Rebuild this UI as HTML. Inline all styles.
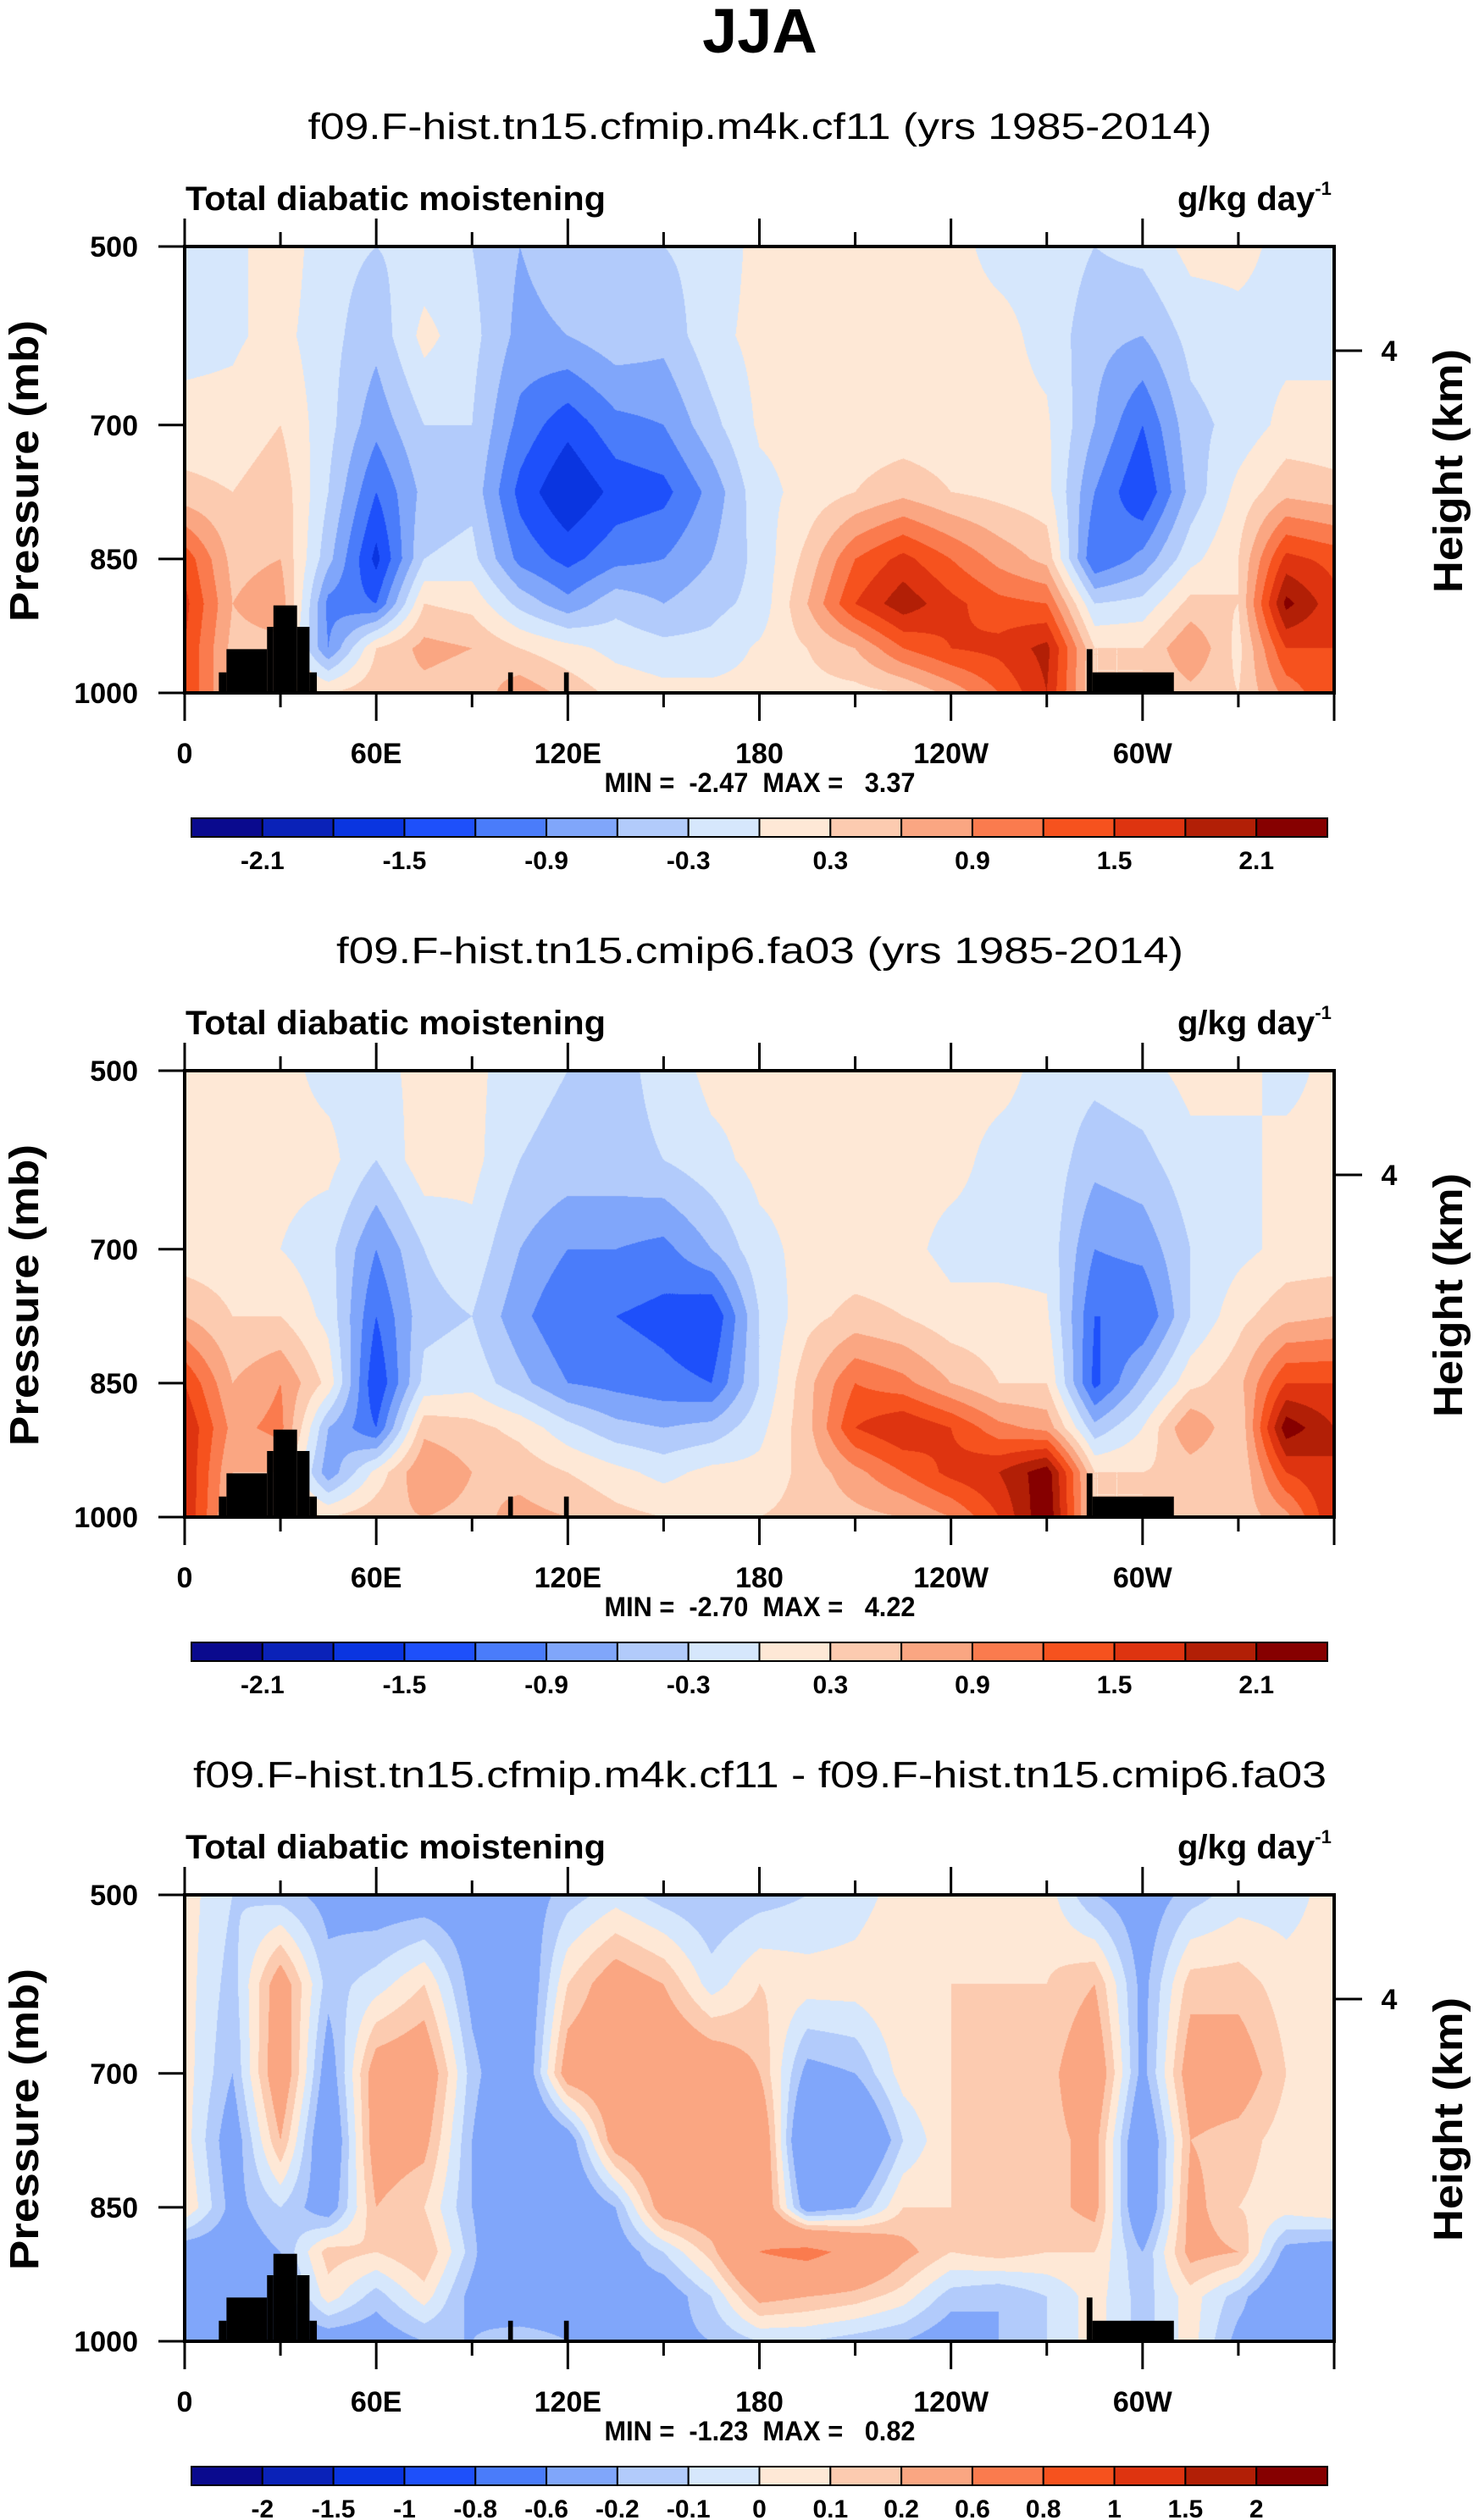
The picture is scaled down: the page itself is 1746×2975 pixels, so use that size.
<!DOCTYPE html>
<html><head><meta charset="utf-8">
<style>
html,body{margin:0;padding:0;background:#fff;}
#root{position:relative;width:1746px;height:2975px;overflow:hidden;font-family:"Liberation Sans",Arial,sans-serif;}
canvas{position:absolute;}
svg{position:absolute;left:0;top:0;}
</style></head>
<body>
<div id="root">
<svg id="svg" width="1746" height="2975"></svg>
</div>
<script>
// ---- data ----
const lons = [0,15,30,45,60,75,90,105,120,135,150,165,180,195,210,225,240,255,270,285,300,315,330,345,360];
const pres = [500,600,700,775,850,900,950,1000];
// columns by longitude, rows by pressure (top->bottom)
const cf11Values = [
[-0.1,-0.1,0.1,0.4,1.4,1.6,1.5,1.5],
[-0.1,-0.05,0.1,0.3,0.5,0.6,0.5,0.5],
[0.2,0.1,0.3,0.5,0.6,0.8,0.5,0.5],
[-0.2,-0.2,-0.2,-0.3,-0.5,-1.0,-0.9,0.3],
[-0.3,-0.5,-0.8,-1.2,-1.6,-1.2,0.3,0.5],
[-0.2,0.1,-0.3,-0.5,-0.3,0.3,0.7,0.5],
[-0.3,-0.2,-0.3,-0.4,-0.2,0.2,0.6,0.4],
[-0.6,-0.7,-1.0,-1.3,-1.0,-0.4,0.3,0.8],
[-0.4,-0.6,-1.4,-1.8,-1.3,-0.8,0.1,0.5],
[-0.5,-0.4,-1.0,-1.4,-1.0,-0.4,-0.1,0.2],
[-0.3,-0.5,-0.9,-1.3,-0.9,-0.6,-0.2,0.1],
[-0.2,-0.1,-0.4,-0.8,-0.6,-0.4,-0.2,0.1],
[0.1,0.1,0.05,-0.1,-0.2,-0.2,0.05,0.1],
[0.1,0.1,0.1,0.1,0.4,0.6,0.3,0.2],
[0.1,0.1,0.1,0.3,1.2,1.5,0.6,0.2],
[0.1,0.1,0.1,0.5,1.6,2.0,1.2,0.3],
[0.1,0.1,0.1,0.3,1.2,1.6,1.5,0.7],
[-0.1,0.1,0.1,0.2,0.8,1.3,1.6,1.2],
[-0.1,-0.1,0.05,0.1,0.5,1.2,1.9,1.8],
[-0.3,-0.5,-0.6,-0.9,-1.2,-0.3,0.3,0.3],
[-0.2,-0.6,-1.2,-1.5,-0.8,-0.2,0.3,0.3],
[0.1,-0.2,-0.4,-0.5,-0.1,0.4,0.9,0.5],
[0.1,-0.1,-0.2,0.1,0.3,0.3,0.2,0.3],
[-0.1,-0.1,0.1,0.5,1.6,2.2,1.5,1.0],
[-0.1,-0.1,0.1,0.4,1.4,1.6,1.5,1.5]
];
const fa03Values = [
[0.1,0.1,0.1,0.6,1.5,1.8,1.8,1.8],
[0.1,0.1,0.1,0.3,0.6,0.8,0.6,0.5],
[0.1,0.1,0.0,0.3,0.9,1.0,0.6,0.5],
[-0.1,0.1,-0.2,-0.1,0.2,-0.6,-0.8,0.3],
[-0.1,-0.3,-0.9,-1.2,-1.5,-1.2,0.1,0.5],
[0.1,0.2,-0.3,-0.4,-0.2,0.5,0.9,0.6],
[0.1,0.1,-0.1,-0.3,-0.1,0.4,0.6,0.5],
[-0.2,-0.3,-0.6,-0.8,-0.5,0.2,0.5,0.7],
[-0.3,-0.4,-0.9,-1.2,-0.9,-0.2,0.3,0.6],
[-0.4,-0.4,-0.9,-1.2,-1.0,-0.5,0.1,0.4],
[-0.2,-0.3,-1.0,-1.3,-1.1,-0.6,-0.1,0.3],
[0.1,-0.1,-0.6,-1.5,-1.2,-0.5,0.1,0.3],
[0.1,0.1,-0.1,-0.3,-0.3,-0.1,0.1,0.3],
[0.1,0.1,0.1,0.2,0.5,0.5,0.4,0.4],
[0.1,0.1,0.1,0.4,1.2,1.5,0.8,0.5],
[0.1,0.1,0.1,0.3,1.0,1.8,1.2,0.6],
[0.1,0.1,-0.1,0.1,0.6,1.5,1.6,0.9],
[0.1,-0.1,-0.1,0.1,0.3,1.0,1.8,1.5],
[-0.1,-0.1,-0.1,0.05,0.3,0.8,2.3,2.4],
[-0.2,-0.5,-0.9,-1.2,-1.3,-0.5,0.3,0.3],
[-0.1,-0.4,-0.8,-1.2,-0.5,0.0,0.3,0.3],
[0.1,-0.1,-0.3,-0.3,0.2,0.9,0.4,0.3],
[0.1,-0.1,-0.1,0.2,0.5,0.3,0.3,0.4],
[-0.1,0.1,0.1,0.5,1.5,2.3,1.5,0.8],
[0.1,0.1,0.1,0.6,1.5,1.8,1.8,1.8]
];
const diffValues = [
[0.05,0.05,0.05,0.05,0.1,-0.3,-0.4,-0.4],
[-0.1,-0.15,-0.2,-0.3,-0.25,-0.3,-0.4,-0.4],
[-0.15,0.3,0.35,0.2,-0.1,-0.2,-0.3,-0.3],
[-0.25,-0.15,-0.3,-0.4,-0.3,0.15,0.05,-0.3],
[-0.3,-0.05,0.3,0.3,0.2,0.1,-0.15,-0.3],
[-0.3,0.1,0.35,0.25,0.1,0.2,0.05,-0.2],
[-0.3,-0.25,-0.15,-0.2,-0.2,-0.15,-0.25,-0.2],
[-0.3,-0.4,-0.4,-0.5,-0.5,-0.6,-0.4,-0.1],
[-0.15,0.1,0.3,-0.3,-0.4,-0.4,-0.35,-0.2],
[-0.05,0.3,0.35,0.3,-0.2,-0.3,-0.25,-0.25],
[-0.15,0.2,0.4,0.4,0.3,-0.1,-0.3,-0.25],
[-0.2,-0.05,0.35,0.4,0.35,0.15,-0.1,-0.2],
[-0.15,0.1,0.2,0.4,0.4,0.6,0.25,-0.1],
[-0.1,0.05,-0.25,-0.5,-0.3,0.7,0.2,-0.1],
[-0.05,0.05,-0.2,-0.5,-0.2,0.5,0.15,-0.15],
[0.05,0.1,0.05,-0.1,0.1,0.25,0.05,-0.2],
[0.05,0.1,0.1,0.1,0.1,0.1,-0.15,-0.3],
[0.05,0.1,0.15,0.2,0.15,0.15,-0.2,-0.2],
[0.05,0.1,0.15,0.15,0.15,0.1,-0.1,-0.1],
[-0.2,0.2,0.35,0.25,0.25,0.1,0.05,0.05],
[-0.3,-0.25,-0.25,-0.4,-0.4,-0.2,-0.15,-0.15],
[-0.15,0.15,0.3,0.2,0.25,0.25,0.05,0.05],
[-0.05,0.15,0.3,0.15,0.1,0.2,-0.15,-0.25],
[-0.05,0.05,0.1,0.05,0.05,-0.25,-0.4,-0.3],
[0.05,0.05,0.05,0.05,0.1,-0.3,-0.4,-0.4]
];
const meanLevels = [-2.1,-1.8,-1.5,-1.2,-0.9,-0.6,-0.3,0,0.3,0.6,0.9,1.2,1.5,1.8,2.1];
const meanLabels = ["-2.1","","-1.5","","-0.9","","-0.3","","0.3","","0.9","","1.5","","2.1"];
const diffLevels = [-2,-1.5,-1,-0.8,-0.6,-0.2,-0.1,0,0.1,0.2,0.6,0.8,1,1.5,2];
const diffLabels = ["-2","-1.5","-1","-0.8","-0.6","-0.2","-0.1","0","0.1","0.2","0.6","0.8","1","1.5","2"];
const colors = ['#0a0a8e','#0a22b8','#0a35e0','#1e50fa','#4a7cfa','#80a6fa','#b2cbfb','#d6e7fc','#fee8d6','#fccbb0','#faa682','#fa7b4e','#f6521e','#de3410','#b21f06','#860000'];
const xTickLabels = ["0","60E","120E","180","120W","60W"];
const xTickLons = [0,60,120,180,240,300];
const yTickPres = [500,700,850,1000];
const topoBlocks = [[10.7,13.1,977],[13.1,25.8,951],[25.8,27.8,926],[27.8,35.2,902],[35.2,39.1,926],[39.1,41.4,977],[101.3,102.8,977],[118.8,120.3,977],[282.5,284.3,951],[284.3,309.8,977]];
const subtitles = ["f09.F-hist.tn15.cfmip.m4k.cf11 (yrs 1985-2014)","f09.F-hist.tn15.cmip6.fa03 (yrs 1985-2014)","f09.F-hist.tn15.cfmip.m4k.cf11 - f09.F-hist.tn15.cmip6.fa03"];
const minMax = [["-2.47","3.37"],["-2.70","4.22"],["-1.23","0.82"]];

// ---- layout ----
const PX0=218, PX1=1575, PY0=291, PY1=818;
const PW=PX1-PX0, PH=PY1-PY0;
const offsets=[0,973,1946];
const NS='http://www.w3.org/2000/svg';
const svg=document.getElementById('svg');
const root=document.getElementById('root');
function xOf(lon){return PX0+lon/360*PW;}
function yOf(p,dy){return dy+PY0+(p-500)/500*PH;}
function mk(tag,attrs,parent){const e=document.createElementNS(NS,tag);for(const k in attrs)e.setAttribute(k,attrs[k]);(parent||svg).appendChild(e);return e;}
function txt(s,attrs,parent){const e=mk('text',attrs,parent);e.textContent=s;return e;}

function valueAt(vals,lon,p){
  let i=Math.min(Math.floor(lon/15),lons.length-2);
  let tx=(lon-lons[i])/(lons[i+1]-lons[i]);
  let j=0;while(j<pres.length-2&&p>pres[j+1])j++;
  let ty=(p-pres[j])/(pres[j+1]-pres[j]);
  tx=Math.max(0,Math.min(1,tx));ty=Math.max(0,Math.min(1,ty));
  const a=vals[i][j],b=vals[i+1][j],c=vals[i][j+1],d=vals[i+1][j+1];
  return (a*(1-tx)+b*tx)*(1-ty)+(c*(1-tx)+d*tx)*ty;
}
function hexRgb(h){return [parseInt(h.slice(1,3),16),parseInt(h.slice(3,5),16),parseInt(h.slice(5,7),16)];}
const rgbs=colors.map(hexRgb);

function drawPanel(k,vals,levels,labels){
  const dy=offsets[k];
  const g=mk('g',{});
  
  
  const cv=document.createElement('canvas');
  cv.width=PW;cv.height=PH;cv.style.left=PX0+'px';cv.style.top=(PY0+dy)+'px';
  
  
  root.insertBefore(cv,svg);
  const ctx=cv.getContext('2d');
  const img=ctx.createImageData(PW,PH);
  for(let y=0;y<PH;y++){
    const p=500+(y+0.5)/PH*500;
    for(let x=0;x<PW;x++){
      const lon=(x+0.5)/PW*360;
      const v=valueAt(vals,lon,p);
      let ci=0;while(ci<levels.length&&v>=levels[ci])ci++;
      const c=rgbs[ci];const o=(y*PW+x)*4;
      img.data[o]=c[0];img.data[o+1]=c[1];img.data[o+2]=c[2];img.data[o+3]=255;
    }
  }
  ctx.putImageData(img,0,0);
  topoBlocks.forEach(b=>{
    const r=mk('rect',{x:xOf(b[0]),y:yOf(b[2],dy),width:xOf(b[1])-xOf(b[0]),height:yOf(1000,dy)-yOf(b[2],dy),fill:'#000'},g);
    
    
  });
  const fr=mk('rect',{x:PX0,y:PY0+dy,width:PW,height:PH,fill:'none',stroke:'#000','stroke-width':4},g);
  
  
  for(let lon=0;lon<=360;lon+=30){
    const major=lon%60===0;const L=major?33:17;const x=xOf(lon);
    if(lon<360){mk('line',{x1:x,x2:x,y1:PY0+dy,y2:PY0+dy-L,stroke:'#000','stroke-width':3},g);}
    mk('line',{x1:x,x2:x,y1:PY1+dy,y2:PY1+dy+L,stroke:'#000','stroke-width':3},g);
  }
  xTickLabels.forEach((s,i)=>{
    const t=txt(s,{x:xOf(xTickLons[i]),y:dy+901,'font-size':34,'font-weight':'bold','text-anchor':'middle'},g);
    
    
  });
  yTickPres.forEach(p=>{
    const y=yOf(p,dy);
    mk('line',{x1:PX0,x2:PX0-31,y1:y,y2:y,stroke:'#000','stroke-width':3},g);
    const t=txt(String(p),{x:163,y:y+12,'font-size':34,'font-weight':'bold','text-anchor':'end'},g);
    
    
  });
  mk('line',{x1:PX1,x2:PX1+33,y1:dy+414,y2:dy+414,stroke:'#000','stroke-width':3},g);
  const t4=txt('4',{x:1640,y:dy+426,'font-size':34,'font-weight':'bold','text-anchor':'middle'},g);
  
  
  const yt=txt('Pressure (mb)',{x:0,y:0,'font-size':48,'font-weight':'bold','text-anchor':'middle',textLength:356,lengthAdjust:'spacingAndGlyphs',transform:`translate(45,${dy+556}) rotate(-90)`},g);
  
  
  const rt=txt('Height (km)',{x:0,y:0,'font-size':48,'font-weight':'bold','text-anchor':'middle',textLength:288,lengthAdjust:'spacingAndGlyphs',transform:`translate(1726,${dy+556}) rotate(-90)`},g);
  
  
  const st=txt(subtitles[k],{x:897,y:dy+164,'font-size':44,'text-anchor':'middle',textLength:k===2?1338:(k===0?1067:1000),lengthAdjust:'spacingAndGlyphs'},g);
  
  
  const lt=txt('Total diabatic moistening',{x:219,y:dy+248,'font-size':40,'font-weight':'bold',textLength:496,lengthAdjust:'spacingAndGlyphs'},g);
  
  
  const ut=txt('',{x:1390,y:dy+248,'font-size':40,'font-weight':'bold'},g);
  
  
  const ts1=document.createElementNS(NS,'tspan');ts1.textContent='g/kg day';ut.appendChild(ts1);
  const ts2=document.createElementNS(NS,'tspan');ts2.textContent='-1';ts2.setAttribute('dy','-18');ts2.setAttribute('font-size','22');ut.appendChild(ts2);
  const mm=txt(`MIN =  ${minMax[k][0]}  MAX =   ${minMax[k][1]}`,{x:897,y:dy+935,'font-size':32,'font-weight':'bold','text-anchor':'middle',textLength:367,lengthAdjust:'spacingAndGlyphs'},g);
  mm.style.whiteSpace='pre';
  
  
  const CB0=226,CB1=1567,CBT=966+dy,CBH=22,bw=(CB1-CB0)/colors.length;
  const cb=mk('g',{},g);
  
  
  colors.forEach((c,i)=>{
    const r=mk('rect',{x:CB0+i*bw,y:CBT,width:bw,height:CBH,fill:c,stroke:'#000','stroke-width':2},cb);
    
    
  });
  labels.forEach((s,i)=>{
    if(!s)return;
    const t=txt(s,{x:CB0+(i+1)*bw,y:CBT+60,'font-size':30,'font-weight':'bold','text-anchor':'middle'},cb);
    
    
  });
}
const main=txt('JJA',{x:897,y:62,'font-size':74,'font-weight':'bold','text-anchor':'middle'});


drawPanel(0,cf11Values,meanLevels,meanLabels);
drawPanel(1,fa03Values,meanLevels,meanLabels);
drawPanel(2,diffValues,diffLevels,diffLabels);
</script>
</body></html>
